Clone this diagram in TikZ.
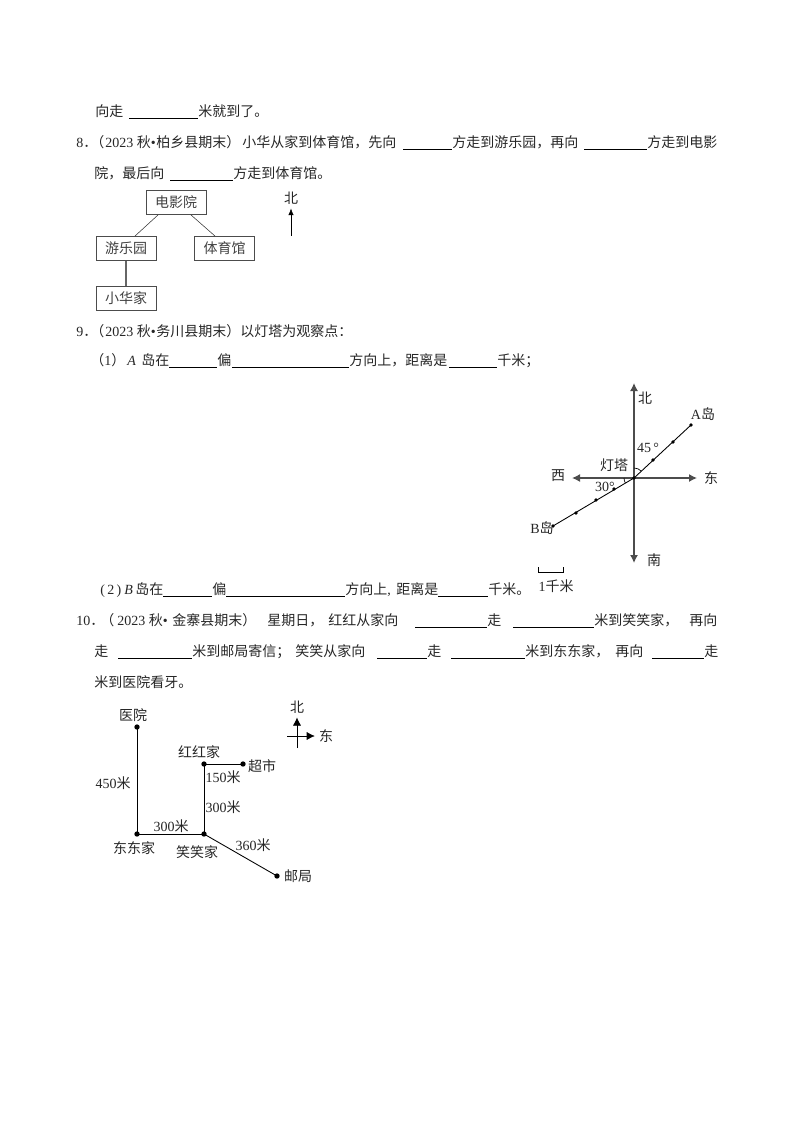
\documentclass[tikz,border=0pt]{standalone}
\usepackage{fontspec}
\setmainfont{Noto Sans CJK SC}
\newfontfamily\lat{Liberation Serif}
\usetikzlibrary{arrows.meta,calc}
\tikzset{
	txt/.style={anchor=west,inner sep=0pt,text height=9pt,text depth=2pt,yshift=-.75pt,font=\fontsize{10.5pt}{12pt}\selectfont,text=black!85},
	lbl/.style={inner sep=0pt,font=\fontsize{10.5pt}{12pt}\selectfont,text=black!85},
	placebox/.style={draw=black!70,line width=.7pt,inner sep=0pt,minimum width=45pt,minimum height=18pt,font=\fontsize{10.5pt}{12pt}\selectfont,text=black!75},
	blankline/.style={line width=.6pt},
	pt/.style={circle,fill=black,inner sep=0pt,minimum size=4pt},
	smallpt/.style={circle,fill=black,inner sep=0pt,minimum size=2.8pt},
	axis/.style={draw=black!70,line width=1pt,-{Latex[length=6pt,width=6pt]}},
	road/.style={line width=.65pt},
}
\begin{document}
\begin{tikzpicture}[x=.75pt,y=-.75pt]
	\useasboundingbox (0,0) rectangle (794,1123);

	% the lines of text
	\foreach \n/\x/\y/\t in {
		la/95/111/向走,
		lb/198/111/米就到了。,
		ma/76/142/{{\lat 8}．},
		mp/90/142/（,
		my/105/142/{{\lat 2023 }秋{\lat\textbullet}},
		mz/156/142/柏乡县期末）,
		maa/242/142/小华从家到体育馆，先向,
		mb/452/142/方走到游乐园，再向,
		mc/647/142/方走到电影,
		na/94/173/院，最后向,
		nb/233/173/方走到体育馆。,
		oa/76/331/{{\lat 9}．},
		op/90/331/（,
		oy/105/331/{{\lat 2023 }秋{\lat\textbullet}},
		oaa/156/331/务川县期末）,
		oab/240/331/以灯塔为观察点：,
		pa/90/360/{（{\lat 1}）},
		paa/127/360/{\lat\itshape A},
		pab/141/360/岛在,
		pb/217/360/偏,
		pc/349/360/方向上，距离是,
		pd/497/360/千米；,
		qa/100/589/{\lat (\,2\,)},
		qaa/124/589/{\lat\itshape B},
		qab/135/589/岛在,
		qb/212/589/偏,
		qc/345/589/方向上{\lat ,},
		qca/396/589/距离是,
		qd/488/589/千米。,
		ra/76/620/{{\lat 10}．},
		rp/100/620/（,
		ry/117/620/{{\lat 2023 }秋{\lat\textbullet}},
		raa/172/620/金寨县期末）,
		rab/267/620/星期日，,
		rac/328/620/红红从家向,
		rb/487/620/走,
		rc/594/620/米到笑笑家，,
		rca/689/620/再向,
		sa/94/651/走,
		sb/192/651/米到邮局寄信；,
		sba/295/651/笑笑从家向,
		sc/427/651/走,
		sd/525/651/米到东东家，,
		sda/615/651/再向,
		se/704/651/走,
		ta/94/682/米到医院看牙。
	} {
		\node[txt] (\n) at (\x,\y) {\t};
	}
	\foreach \a/\b/\y in {129/198/118, 403/452/149, 584/647/149, 170/233/180,
		169/217/367, 232/349/367, 449/497/367, 163/212/596, 226/345/596, 438/488/596,
		415/487/627, 513/594/627, 118/192/658, 377/427/658, 451/525/658, 652/704/658} {
		\draw[blankline] (\a,\y) -- (\b,\y);
	}

	% places of question 8
	\node[placebox] (film) at (176,202.5) {电影院};
	\node[placebox] (park) at (126,248.5) {游乐园};
	\node[placebox] (gym) at (224.5,248.5) {体育馆};
	\node[placebox] (home) at (126,298) {小华家};
	\draw[black!80] ($(film.south)+(-18,0)$) -- ($(park.north)+(9,0)$);
	\draw[black!80] ($(film.south)+(15,0)$) -- ($(gym.north)+(-9.5,0)$);
	\draw[black!60,line width=1.2pt] (park) -- (home);
	\node[lbl] (bei) at (291,198) {北};
	\coordinate (beitail) at (291,236);
	\draw[-{Latex[length=5pt,width=4pt]},shorten >=3pt] (beitail) -- (bei.south);

	% the lighthouse of question 9
	\coordinate (O) at (634,478);
	\coordinate (N) at (634,383);
	\coordinate (S) at (634,563);
	\coordinate (W) at (572,478);
	\coordinate (E) at (697,478);
	\foreach \p in {N,S,W,E} {
		\draw[axis] (O) -- (\p);
	}
	\draw[road] (O) -- (691,425) coordinate (Aend);
	\draw[road] (O) -- (553,526) coordinate (Bend);
	\node[smallpt] (A) at (Aend) {};
	\node[smallpt] (aone) at (673,442) {};
	\node[smallpt] (atwo) at (653,460) {};
	\node[smallpt] (B) at (Bend) {};
	\node[smallpt] (bone) at (576,513) {};
	\node[smallpt] (btwo) at (596,500) {};
	\node[smallpt] (bthree) at (614,489) {};
	\node[smallpt] (Ot) at (O) {};
	\draw[line width=.5pt] ($(O)+(0,-10)$) arc[start angle=-90,end angle=-45,radius=10];
	\draw[line width=.5pt] ($(O)+(-10,0)$) arc[start angle=180,end angle=150,radius=10];
	\node[lbl] (nbei) at (645,398) {北};
	\node[lbl] (nnan) at (654,560) {南};
	\node[lbl] (nxi) at (558,476) {西};
	\node[lbl] (ndong) at (711,478) {东};
	\node[lbl] (ndeng) at (614,465) {灯塔};
	\node[lbl] (nA) at (703,414) {{\lat A}岛};
	\node[lbl] (nB) at (542,528) {{\lat B}岛};
	\node[lbl] (nff) at (648,448) {\lat 45\,°};
	\node[lbl] (ntt) at (605,487) {\lat 30°};
	\node[lbl] (nkm) at (556,586) {{\lat 1}千米};
	\draw[line width=.6pt] (538,567) -- (538,572) -- (563,572) -- (563,567);

	% the map of question 10
	\draw[road] (137,727) coordinate (phosp) -- (137,834) coordinate (pdong) -- (204,834) coordinate (pxiao) -- (204,764) coordinate (phong) -- (243,764) coordinate (pshop);
	\draw[road] (pxiao) -- (277,876) coordinate (ppost);
	\foreach \p/\q in {phosp/hosp,pdong/dong,pxiao/xiao,phong/hong,pshop/shop,ppost/post} {
		\node[pt] (\q) at (\p) {};
	}
	\node[lbl] (lhosp) at (133,715) {医院};
	\node[lbl] (lhong) at (199,752) {红红家};
	\node[lbl] (lshop) at (262,766) {超市};
	\node[lbl] (ldong) at (134,848) {东东家};
	\node[lbl] (lxiao) at (197,852) {笑笑家};
	\node[lbl] (lpost) at (298,876) {邮局};
	\node[lbl] (da) at (113,783) {{\lat 450}米};
	\node[lbl] (db) at (223,777) {{\lat 150}米};
	\node[lbl] (dc) at (223,807) {{\lat 300}米};
	\node[lbl] (dd) at (171,826) {{\lat 300}米};
	\node[lbl] (de) at (253,845) {{\lat 360}米};
	\node[lbl] (cn) at (297,707) {北};
	\node[lbl] (ce) at (326,736) {东};
	\coordinate (cs) at (297,748);
	\coordinate (cw) at (287,736);
	\draw[-{Latex[length=6pt,width=6pt]},shorten >=3pt] (cs) -- (cn.south);
	\draw[-{Latex[length=6pt,width=6pt]},shorten >=3pt] (cw) -- (ce.west);
\end{tikzpicture}
\end{document}
